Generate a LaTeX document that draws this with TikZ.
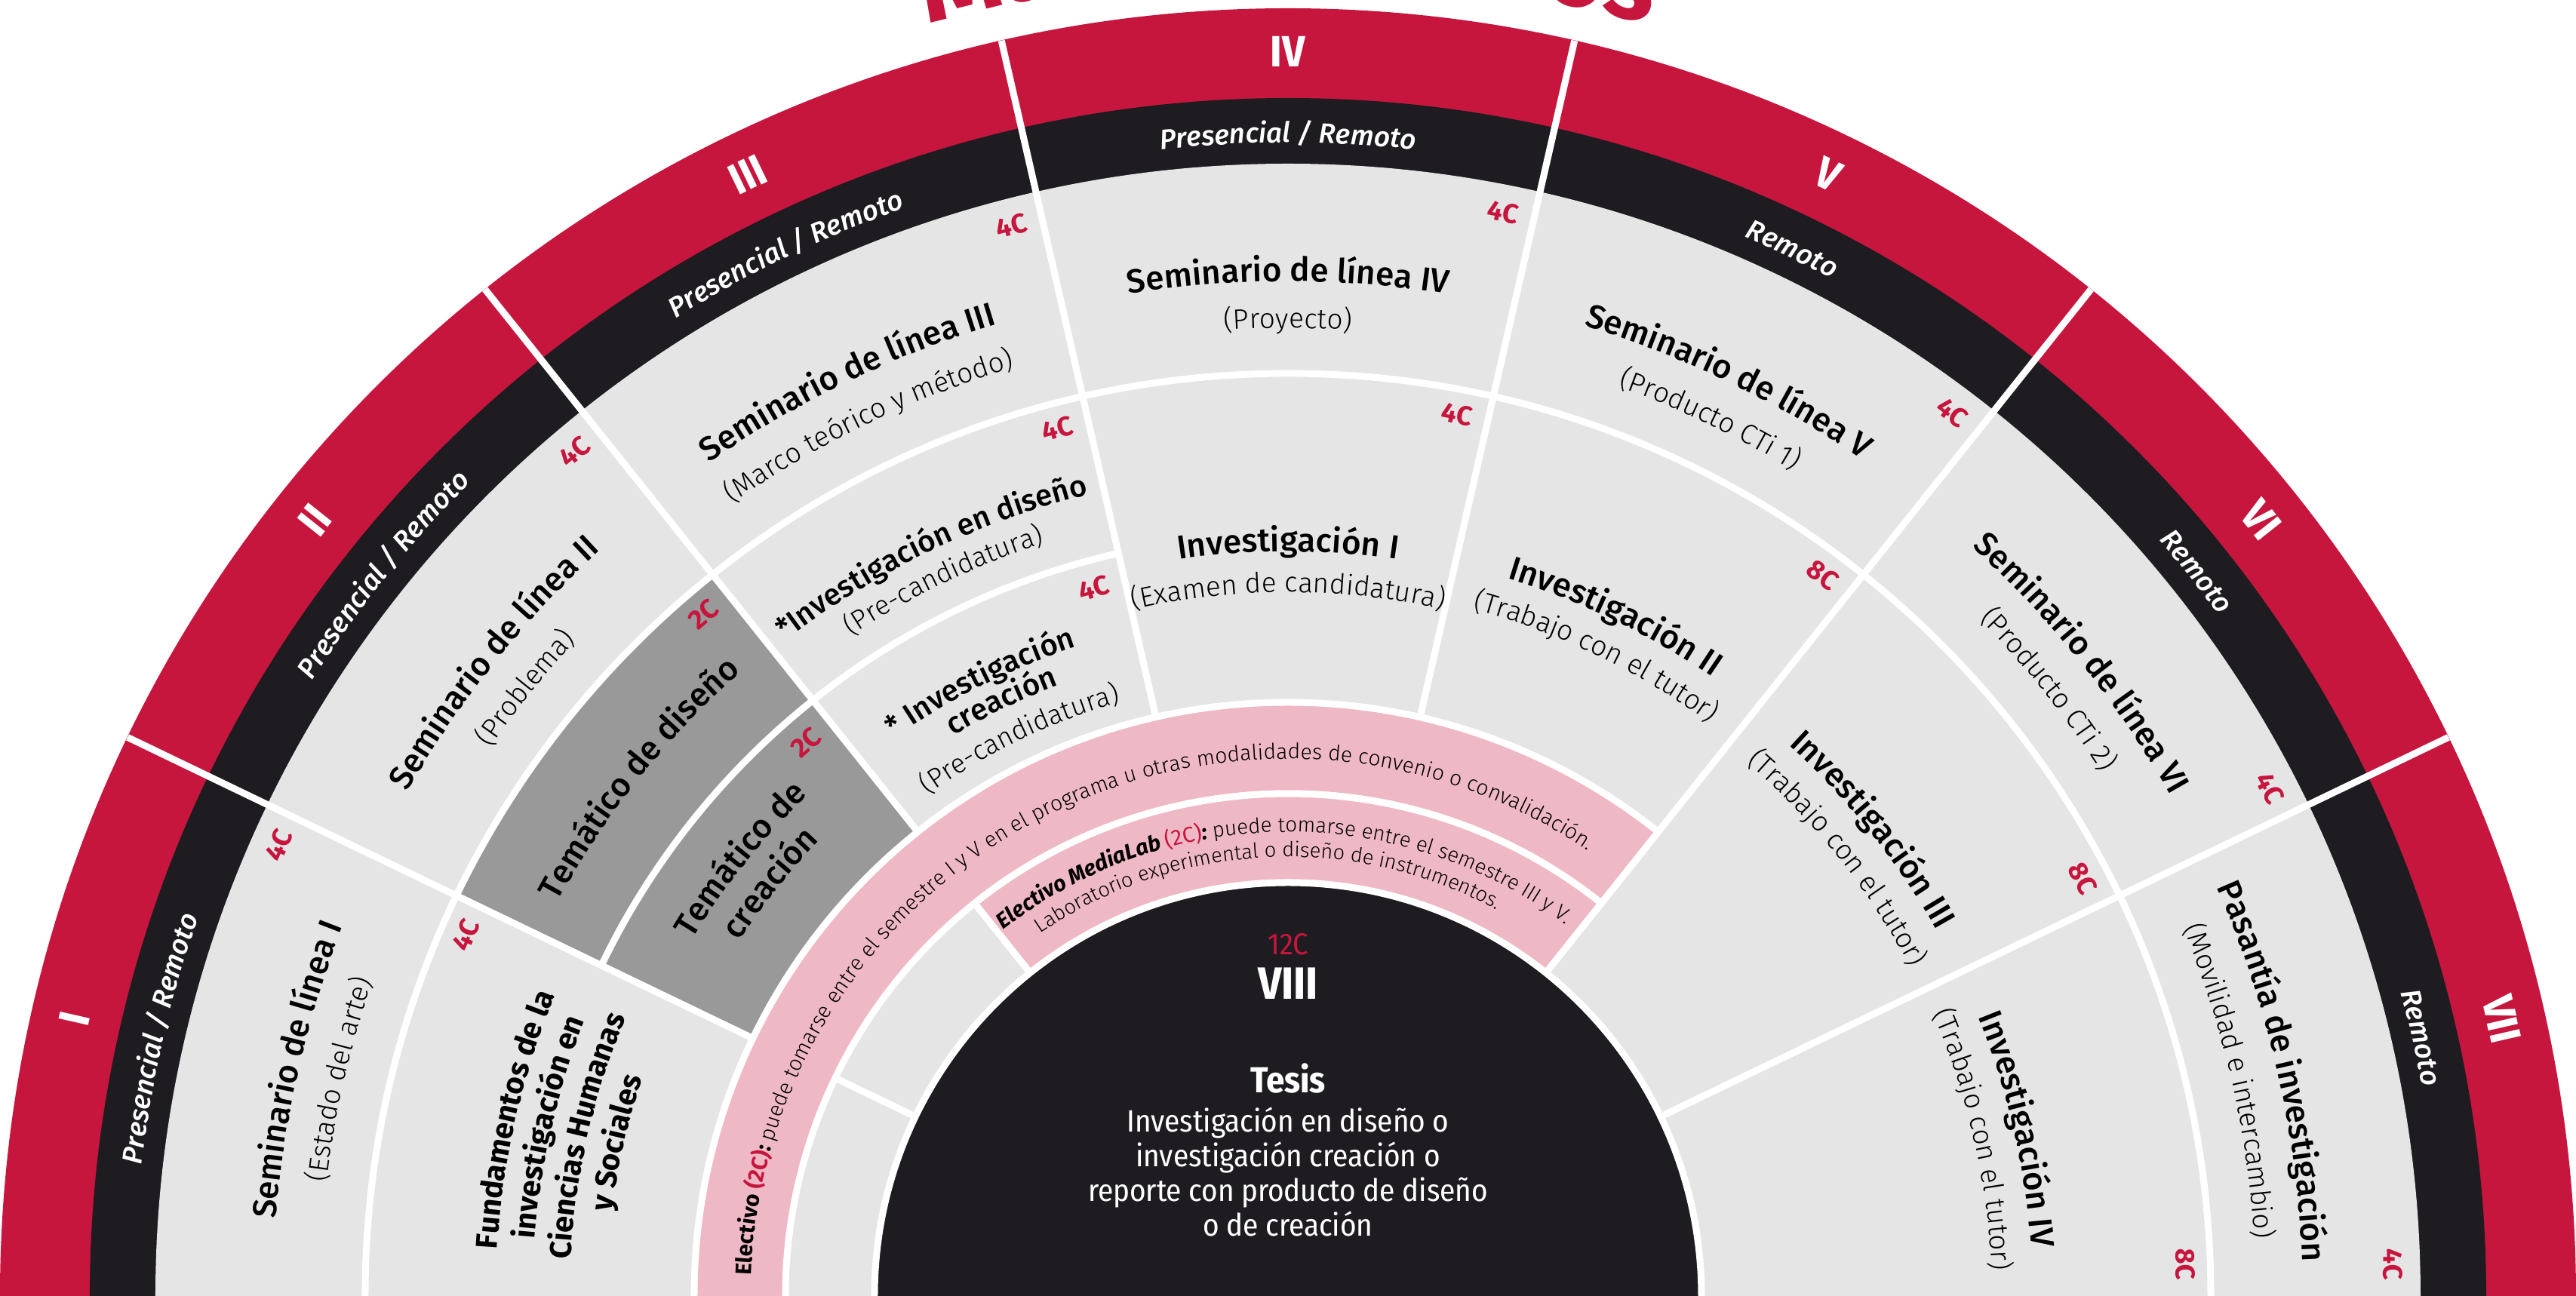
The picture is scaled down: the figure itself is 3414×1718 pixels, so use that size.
\documentclass[tikz,border=0pt]{standalone}
\usepackage{fontspec}
\usetikzlibrary{decorations.text}
\setmainfont{Fira Sans}
\IfFontExistsTF{Fira Sans Medium}{\newfontfamily\fmed{Fira Sans Medium}}{\newcommand\fmed{\bfseries}}
\IfFontExistsTF{Fira Sans Light}{\newfontfamily\flight{Fira Sans Light}}{\newcommand\flight{\normalfont}}
\IfFontExistsTF{Fira Sans Condensed}{\newfontfamily\fcond{Fira Sans Condensed}}{\newcommand\fcond{\normalfont}}
\definecolor{crim}{RGB}{199,22,62}
\definecolor{ink}{RGB}{30,28,32}
\definecolor{lgray}{RGB}{229,229,229}
\definecolor{dgray}{RGB}{153,153,153}
\definecolor{pinkb}{RGB}{239,184,197}
\newcommand\fT{\fmed\fontsize{44}{44}\selectfont}
\newcommand\fTs{\fmed\fontsize{40}{40}\selectfont}
\newcommand\fS{\flight\fontsize{37}{37}\selectfont}
\newcommand\fSs{\flight\fontsize{36}{36}\selectfont}
\newcommand\fB{\bfseries\fontsize{40}{40}\selectfont}
\newcommand\fMod{\fmed\itshape\fontsize{37}{37}\selectfont\color{white}}
\newcommand\fEb{\bfseries\fontsize{29.5}{29.5}\selectfont}
\newcommand\fEr{\bfseries\fontsize{29.5}{29.5}\selectfont\color{crim}}
\newcommand\fEl{\flight\fontsize{28.4}{28.4}\selectfont}
\newcommand\fMb{\bfseries\itshape\fontsize{29}{29}\selectfont}
\newcommand\fMr{\fontsize{29}{29}\selectfont\color{crim}}
\newcommand\fMl{\flight\fontsize{27.8}{27.8}\selectfont}
\newcommand\fMm{\flight\fontsize{27.3}{27.3}\selectfont}
\newcommand\fTitle{\bfseries\fontsize{136}{136}\selectfont\color{crim}}
% arc text: radius, centre angle, half span, format, text
\newcommand\arctext[5]{\path[decorate,decoration={text along path,text align=center,text={|#4|#5}}] ({#2+#3}:#1) arc[start angle={#2+#3},end angle={#2-#3},radius=#1];}
% annular sector: a1, a2, r outer, r inner, style
\newcommand\sect[5]{\fill[#5] (#1:#3) arc[start angle=#1,end angle=#2,radius=#3] -- (#2:#4) arc[start angle=#2,end angle=#1,radius=#4] -- cycle;}
\newcommand\cred[4]{\node[cred,rotate={#2-90}] (#1) at (#2:#3) {#4};}
\tikzset{
  cred/.style={font=\bfseries\fontsize{36}{36}\selectfont,text=crim,inner sep=0pt},
  numstyle/.style={font=\fcond\bfseries\fontsize{58}{58}\selectfont,text=white,inner sep=0pt},
  wline/.style={white,line width=9}
}
\begin{document}
\begin{tikzpicture}[x=1pt,y=1pt]
\useasboundingbox (-1707,0) rectangle (1707,1718);
% title (cut by the page edge)
\arctext{1752}{90}{40}{\fTitle}{Malla de cursos}
% rings
\fill[crim] (-1707,0) arc[start angle=180,end angle=0,radius=1707] -- cycle;
\fill[ink] (-1588,0) arc[start angle=180,end angle=0,radius=1588] -- cycle;
\fill[lgray] (-1501,0) arc[start angle=180,end angle=0,radius=1501] -- cycle;
\sect{128.571}{154.286}{1223}{787}{dgray}
% white separators
\draw[wline] (0:1223) arc[start angle=0,end angle=180,radius=1223];
\draw[wline] (102.857:1010) arc[start angle=102.857,end angle=154.286,radius=1010];
\foreach \a in {25.714,51.429,77.143,102.857,128.571,154.286}
  \draw[wline] (\a:548) -- (\a:1707);
% pink bands
\sect{51.429}{180}{787}{666}{pinkb}
\draw[wline] (180:787) arc[start angle=180,end angle=51.429,radius=787] -- (51.429:666) arc[start angle=51.429,end angle=180,radius=666];
\draw[wline,fill=pinkb] (51.429:666) arc[start angle=51.429,end angle=128.571,radius=666] -- (128.571:548) arc[start angle=128.571,end angle=51.429,radius=548] -- cycle;
% core
\fill[ink] (-548,0) arc[start angle=180,end angle=0,radius=548] -- cycle;
\draw[wline] (-548,0) arc[start angle=180,end angle=0,radius=548];
% semester numerals
\node[numstyle,rotate=77.143] (n1) at (167.143:1650) {I};
\node[numstyle,rotate=51.429] (n2) at (141.429:1650) {II};
\node[numstyle,rotate=25.714] (n3) at (115.714:1650) {III};
\node[numstyle] (n4) at (90:1650) {IV};
\node[numstyle,rotate=-25.714] (n5) at (64.286:1650) {V};
\node[numstyle,rotate=-51.429] (n6) at (38.571:1650) {VI};
\node[numstyle,rotate=-77.143] (n7) at (12.857:1650) {VII};
% modalities
\arctext{1529}{167.143}{14}{\fMod}{Presencial / Remoto}
\arctext{1529}{141.429}{14}{\fMod}{Presencial / Remoto}
\arctext{1529}{115.714}{14}{\fMod}{Presencial / Remoto}
\arctext{1529}{90}{14}{\fMod}{Presencial / Remoto}
\arctext{1529}{64.286}{14}{\fMod}{Remoto}
\arctext{1529}{38.571}{14}{\fMod}{Remoto}
\arctext{1529}{12.857}{14}{\fMod}{Remoto}
% seminarios
\arctext{1345}{167.143}{20}{\fT}{Seminario de línea I}
\arctext{1283}{167.143}{20}{\fS}{(Estado del arte)}
\arctext{1345}{141.429}{20}{\fT}{Seminario de línea II}
\arctext{1283}{141.429}{20}{\fS}{(Problema)}
\arctext{1345}{115.714}{20}{\fT}{Seminario de línea III}
\arctext{1283}{115.714}{20}{\fS}{(Marco teórico y método)}
\arctext{1345}{90}{20}{\fT}{Seminario de línea IV}
\arctext{1283}{90}{20}{\fS}{(Proyecto)}
\arctext{1345}{64.286}{20}{\fT}{Seminario de línea V}
\arctext{1283}{64.286}{20}{\fS}{(Producto CTi 1)}
\arctext{1345}{38.571}{20}{\fT}{Seminario de línea VI}
\arctext{1283}{38.571}{20}{\fS}{(Producto CTi 2)}
\arctext{1345}{12.857}{20}{\fT}{Pasantía de investigación}
\arctext{1283}{12.857}{20}{\fS}{(Movilidad e intercambio)}
% inner cells
\arctext{1050}{167.143}{22}{\fB}{Fundamentos de la}
\arctext{1001}{167.143}{22}{\fB}{investigación en}
\arctext{952}{167.143}{22}{\fB}{Ciencias Humanas}
\arctext{903}{167.143}{22}{\fB}{y Sociales}
\arctext{1100}{141.429}{22}{\fT}{Temático de diseño}
\arctext{920}{141.429}{22}{\fT}{Temático de}
\arctext{866}{141.429}{22}{\fT}{creación}
\arctext{1095}{115.714}{22}{\fTs}{*Investigación en diseño}
\arctext{1049}{115.714}{22}{\fSs}{(Pre-candidatura)}
\arctext{905}{116.6}{22}{\fTs}{* Investigación}
\arctext{865}{115.714}{22}{\fTs}{creación}
\arctext{818}{115.714}{22}{\fSs}{(Pre-candidatura)}
\arctext{987}{90}{22}{\fT}{Investigación I}
\arctext{933}{90}{22}{\fS}{(Examen de candidatura)}
\arctext{995}{64.286}{22}{\fT}{Investigación II}
\arctext{943}{64.286}{22}{\fS}{(Trabajo con el tutor)}
\arctext{987}{38.571}{22}{\fT}{Investigación III}
\arctext{933}{38.571}{22}{\fS}{(Trabajo con el tutor)}
\arctext{987}{12.857}{22}{\fT}{Investigación IV}
\arctext{933}{12.857}{22}{\fS}{(Trabajo con el tutor)}
% pink band texts
\path[decorate,decoration={text along path,text align=center,text={|\fEb|Electivo |\fEr|(2C)|\fEb|: |\fEl|puede tomarse entre el semestre I y V en el programa u otras modalidades de convenio o convalidación.}}] (192:712) arc[start angle=192,end angle=42,radius=712];
\path[decorate,decoration={text along path,text align=center,text={|\fMb|Electivo MediaLab |\fMr|(2C)|\fMb|: |\fMl|puede tomarse entre el semestre III y V.}}] (150.5:615) arc[start angle=150.5,end angle=30.5,radius=615];
\arctext{582}{93}{60}{\fMm}{Laboratorio experimental o diseño de instrumentos.}
% credits
\cred{c1}{155.93}{1465}{4C}
\cred{c2}{130.21}{1465}{4C}
\cred{c3}{104.50}{1465}{4C}
\cred{c4}{78.78}{1465}{4C}
\cred{c5}{53.07}{1465}{4C}
\cred{c6}{27.35}{1465}{4C}
\cred{c7}{1.64}{1465}{4C}
\cred{cf}{156.3}{1190}{4C}
\cred{ctd}{130.6}{1190}{2C}
\cred{cid}{104.9}{1190}{4C}
\cred{ci1}{79.16}{1190}{4C}
\cred{ci2}{53.45}{1190}{8C}
\cred{ci3}{27.73}{1190}{8C}
\cred{ci4}{2.02}{1190}{8C}
\cred{ctc}{131.04}{973}{2C}
\cred{cic}{105.33}{973}{4C}
% core
\node[font=\fcond\fontsize{40}{40}\selectfont,text=crim,inner sep=0pt] (c12) at (0,466) {12C};
\node[font=\fcond\bfseries\fontsize{60}{60}\selectfont,text=white,inner sep=0pt] (viii) at (0,414) {VIII};
\node[font=\fcond\bfseries\fontsize{48}{48}\selectfont,text=white,inner sep=0pt] (tesis) at (0,288) {Tesis};
\node[font=\fcond\fontsize{41}{46}\selectfont,text=white,align=center,inner sep=0pt] (tbody) at (0,165) {Investigación en diseño o\\investigación creación o\\reporte con producto de diseño\\o de creación};
\end{tikzpicture}
\end{document}
